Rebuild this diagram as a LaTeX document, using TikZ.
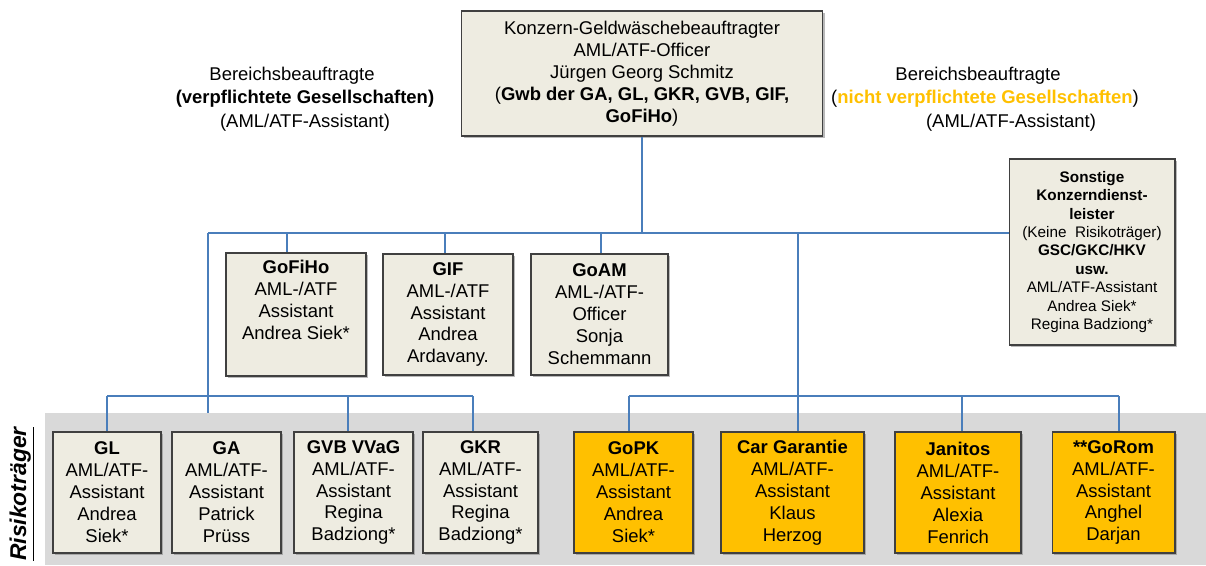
\documentclass[tikz,border=0pt]{standalone}
\usepackage{fontspec}
\setmainfont{Liberation Sans}
\usepackage{xcolor}
\usepackage{tikz}
\usetikzlibrary{positioning, shadows}
\definecolor{boxfill}{HTML}{EEECE1}
\definecolor{riskfill}{HTML}{FFC000}
\definecolor{bandgrey}{HTML}{D9D9D9}
\definecolor{linkblue}{HTML}{4A7EBB}
\definecolor{goldtext}{HTML}{FFC000}

\begin{document}
\begin{tikzpicture}[
  x=0.02cm, y=-0.02cm,
  box/.style={draw=black!75, line width=0.6pt, fill=boxfill, align=center, inner sep=2pt,
    minimum height=2.42cm, font=\fontsize{10.5}{12.5}\selectfont,
    drop shadow={shadow xshift=1.2pt, shadow yshift=-1.2pt, opacity=0.55}},
  riskbox/.style={box, fill=riskfill},
  link/.style={draw=linkblue, line width=0.8pt},
  note/.style={align=center, font=\fontsize{10.5}{13.3}\selectfont}
]
\useasboundingbox (0,0) rectangle (1206,565);
\fill[bandgrey] (45,413) rectangle (1206,565);
\node[rotate=90, font=\fontsize{13}{15}\selectfont\bfseries\itshape] (risk) at (22,494) {\underline{Risikoträger}};

% top level
\node[box, minimum width=7.22cm, minimum height=2.5cm] (boss) at (642,73.5)
  {Konzern-Geldwäschebeauftragter\\AML/ATF-Officer\\Jürgen Georg Schmitz\\(\textbf{Gwb der GA, GL, GKR, GVB, GIF,}\\\textbf{GoFiHo})};
\node[note] (leftnote) at (305,99) {Bereichsbeauftragte\hspace*{0.52cm}\\\textbf{(verpflichtete Gesellschaften)}\\(AML/ATF-Assistant)};
\node[note] (rightnote) at (985,99) {Bereichsbeauftragte\hspace*{0.28cm}\\(\textcolor{goldtext}{\textbf{nicht verpflichtete Gesellschaften}})\\\hspace*{1.04cm}(AML/ATF-Assistant)};

% middle row
\node[box, minimum width=2.8cm, minimum height=2.46cm] (gofiho) at (296,314.5) {\textbf{GoFiHo}\\AML-/ATF\\Assistant\\Andrea Siek*\\\strut};
\node[box, minimum width=2.6cm] (gif) at (448,314.5) {\textbf{GIF}\\AML-/ATF\\Assistant\\Andrea\\Ardavany.};
\node[box, minimum width=2.74cm] (goam) at (599.5,314.5) {\textbf{GoAM}\\AML-/ATF-\\Officer\\Sonja\\Schemmann};
\node[box, minimum width=3.32cm, minimum height=3.72cm, font=\fontsize{8.7}{10.5}\selectfont] (others) at (1092,252)
  {\textbf{Sonstige}\\\textbf{Konzerndienst-}\\\textbf{leister}\\(Keine\ \ Risikoträger)\\\textbf{GSC/GKC/HKV}\\\textbf{usw.}\\AML/ATF-Assistant\\Andrea Siek*\\Regina Badziong*};

% Risikotraeger
\node[box, minimum width=2.16cm] (gl) at (107,492.5) {\textbf{GL}\\AML/ATF-\\Assistant\\Andrea\\Siek*};
\node[box, minimum width=2.18cm] (ga) at (226.5,492.5) {\textbf{GA}\\AML/ATF-\\Assistant\\Patrick\\Prüss};
\node[box, minimum width=2.38cm] (gvb) at (353.5,492.5) {\textbf{GVB VVaG}\\AML/ATF-\\Assistant\\Regina\\Badziong*};
\node[box, minimum width=2.3cm] (gkr) at (480.5,492.5) {\textbf{GKR}\\AML/ATF-\\Assistant\\Regina\\Badziong*};
\node[riskbox, minimum width=2.38cm] (gopk) at (633.5,492.5) {\textbf{GoPK}\\AML/ATF-\\Assistant\\Andrea\\Siek*};
\node[riskbox, minimum width=2.86cm] (cargar) at (792.5,492.5) {\textbf{Car Garantie}\\AML/ATF-\\Assistant\\Klaus\\Herzog};
\node[riskbox, minimum width=2.52cm] (janitos) at (958,492.5) {\textbf{Janitos}\\AML/ATF-\\Assistant\\Alexia\\Fenrich};
\node[riskbox, minimum width=2.46cm] (gorom) at (1113.5,492.5) {\textbf{**GoRom}\\AML/ATF-\\Assistant\\Anghel\\Darjan};

% connectors
\coordinate (hub) at (boss.south |- 0,233);
\coordinate (upleft) at (208,233);
\coordinate (bandtop) at (208,413);
\draw[link] (boss.south) -- (hub);
\draw[link] (upleft) -- (hub -| others.west);
\draw[link] (upleft) -- (bandtop);
\foreach \px/\tgt in {287/gofiho, 445/gif, 601/goam}
  \draw[link] (\px,233) -- (\px,233 |- \tgt.north);
\draw[link] (107,396) -- (473,396);
\foreach \px/\tgt in {107/gl, 348/gvb, 473/gkr}
  \draw[link] (\px,396) -- (\px,396 |- \tgt.north);
\draw[link] (798,233) -- (798,233 |- cargar.north);
\draw[link] (629,396) -- (1119,396);
\foreach \px/\tgt in {629/gopk, 962/janitos, 1119/gorom}
  \draw[link] (\px,396) -- (\px,396 |- \tgt.north);
\end{tikzpicture}
\end{document}
